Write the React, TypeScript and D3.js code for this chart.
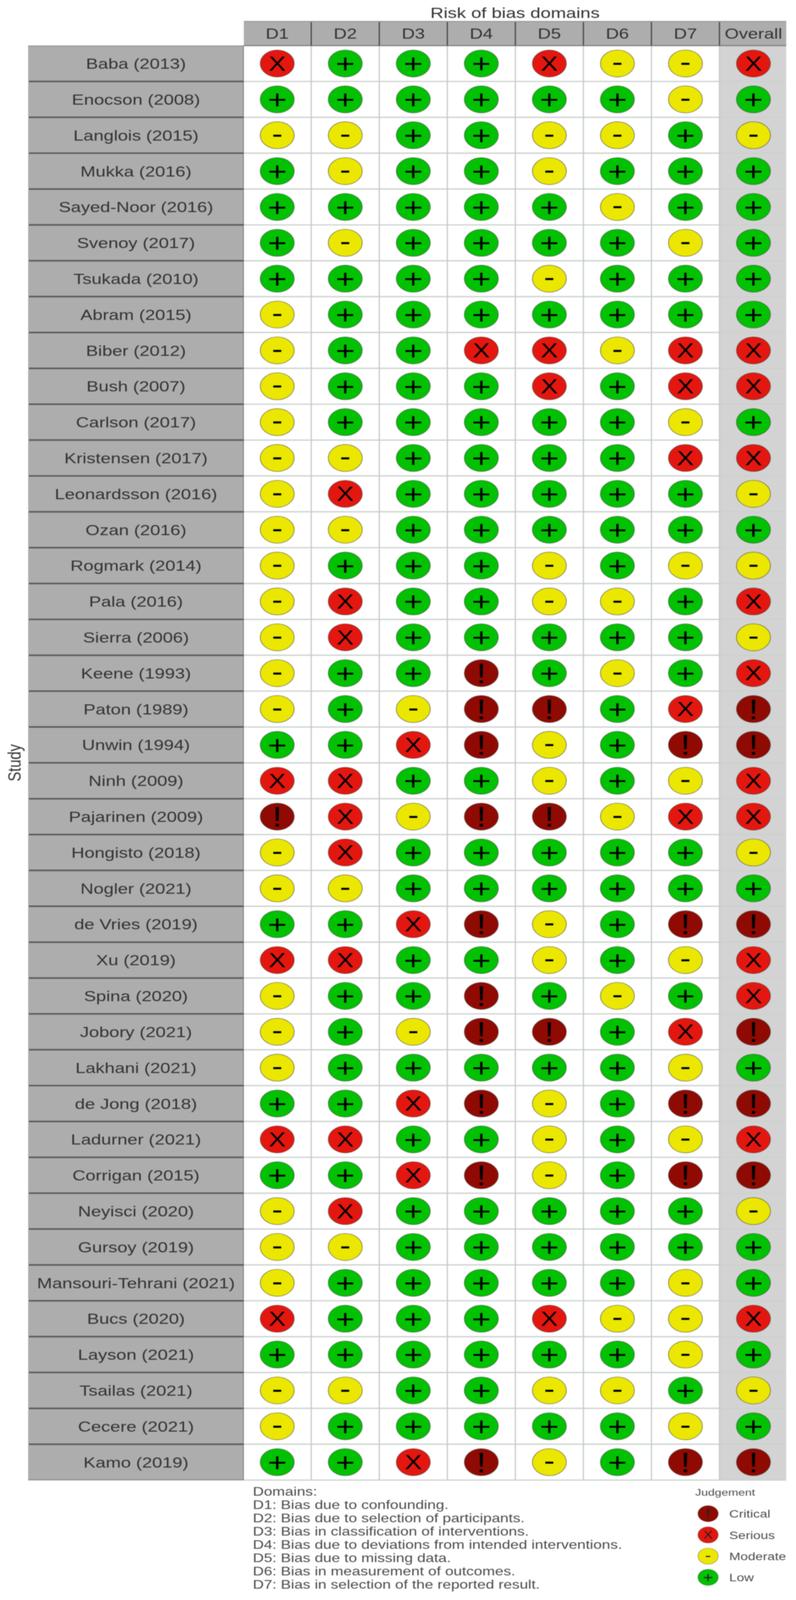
import React, { useEffect, useRef } from "react";
import * as d3 from "d3";

const studies = [
  "Baba (2013)", "Enocson (2008)", "Langlois (2015)", "Mukka (2016)", "Sayed-Noor (2016)",
  "Svenoy (2017)", "Tsukada (2010)", "Abram (2015)", "Biber (2012)", "Bush (2007)",
  "Carlson (2017)", "Kristensen (2017)", "Leonardsson (2016)", "Ozan (2016)", "Rogmark (2014)",
  "Pala (2016)", "Sierra (2006)", "Keene (1993)", "Paton (1989)", "Unwin (1994)",
  "Ninh (2009)", "Pajarinen (2009)", "Hongisto (2018)", "Nogler (2021)", "de Vries (2019)",
  "Xu (2019)", "Spina (2020)", "Jobory (2021)", "Lakhani (2021)", "de Jong (2018)",
  "Ladurner (2021)", "Corrigan (2015)", "Neyisci (2020)", "Gursoy (2019)", "Mansouri-Tehrani (2021)",
  "Bucs (2020)", "Layson (2021)", "Tsailas (2021)", "Cecere (2021)", "Kamo (2019)",
];

const domains = ["D1", "D2", "D3", "D4", "D5", "D6", "D7", "Overall"];

// one judgement per study, same order as studies
const d1 = ["X","+","-","+","+","+","+","-","-","-", "-","-","-","-","-","-","-","-","-","+", "X","!","-","-","+","X","-","-","-","+", "X","+","-","-","-","X","+","-","-","+"];
const d2 = ["+","+","-","-","+","-","+","+","+","+", "+","-","X","-","+","X","X","+","+","+", "X","X","X","-","+","X","+","+","+","+", "X","+","X","-","+","+","+","-","+","+"];
const d3v = ["+","+","+","+","+","+","+","+","+","+", "+","+","+","+","+","+","+","+","-","X", "+","-","+","+","X","+","+","-","+","X", "+","X","+","+","+","+","+","+","+","X"];
const d4 = ["+","+","+","+","+","+","+","+","X","+", "+","+","+","+","+","+","+","!","!","!", "+","!","+","+","!","+","!","!","+","!", "+","!","+","+","+","+","+","+","+","!"];
const d5 = ["X","+","-","-","+","+","-","+","X","X", "+","+","+","+","-","-","+","+","!","-", "-","!","+","+","-","-","+","!","+","-", "-","-","+","+","+","X","+","-","+","-"];
const d6 = ["-","+","-","+","-","+","+","+","-","+", "+","+","+","+","+","-","+","-","+","+", "+","-","+","+","+","+","-","+","+","+", "+","+","+","+","+","-","+","-","+","+"];
const d7 = ["-","-","+","+","+","-","+","+","X","X", "-","X","+","+","-","+","+","+","X","!", "-","X","+","+","!","-","+","X","-","!", "-","!","+","+","-","-","-","+","-","!"];
const overall = ["X","+","-","+","+","+","+","+","X","X", "+","X","-","+","-","X","-","X","!","!", "X","X","-","+","!","X","X","!","+","!", "X","!","-","+","+","X","+","-","+","!"];

const columns = [d1, d2, d3v, d4, d5, d6, d7, overall];

const domainNotes = [
  "Domains:",
  "D1: Bias due to confounding.",
  "D2: Bias due to selection of participants.",
  "D3: Bias in classification of interventions.",
  "D4: Bias due to deviations from intended interventions.",
  "D5: Bias due to missing data.",
  "D6: Bias in measurement of outcomes.",
  "D7: Bias in selection of the reported result.",
];

const legendLevels = ["!", "X", "-", "+"];
const legendNames = ["Critical", "Serious", "Moderate", "Low"];
const levelColors = ["#8f0a02", "#e3170f", "#ebe700", "#02c102"];

// font size and baseline shift (in em) that centre each symbol in its circle
const glyphSize: Record<string, number> = { "+": 84, "-": 84, X: 66, "!": 90 };
const glyphShift: Record<string, number> = { "+": 0.355, "-": 0.277, X: 0.344, "!": 0.356 };

const WIDTH = 2037;
const HEIGHT = 5153;
const FONT = "'Liberation Sans', Arial, sans-serif";

const App: React.FC = () => {
  const ref = useRef<SVGSVGElement | null>(null);

  useEffect(() => {
    document.body.style.margin = "0";
    const svg = d3.select(ref.current);
    svg.selectAll("*").remove();
    svg.attr("font-family", FONT);

    const panelLeft = 624;
    const panelRight = 2012;
    const stripLeft = 72;
    const headTop = 68;

    const x = d3.scaleBand<string>().domain(domains).range([622.4, 2015.2]);
    const y = d3.scaleBand<string>().domain(studies).range([146.8, 4766.8]);
    const color = d3.scaleOrdinal<string, string>().domain(legendLevels).range(levelColors);
    const panelTop = y.range()[0];
    const panelBottom = y.range()[1];

    // overall column background
    svg.append("rect")
      .attr("x", x("Overall")!)
      .attr("y", panelTop)
      .attr("width", panelRight - x("Overall")!)
      .attr("height", panelBottom - panelTop)
      .attr("fill", "#d3d3d3");

    // grid
    svg.append("g").selectAll("line")
      .data(studies.slice(1).concat("end"))
      .join("line")
      .attr("x1", panelLeft)
      .attr("x2", panelRight)
      .attr("y1", d => (d === "end" ? panelBottom : y(d)!))
      .attr("y2", d => (d === "end" ? panelBottom : y(d)!))
      .attr("stroke", "#cbd2ce")
      .attr("stroke-width", 4);
    svg.append("g").selectAll("line")
      .data(domains.slice(1))
      .join("line")
      .attr("x1", d => x(d)!)
      .attr("x2", d => x(d)!)
      .attr("y1", panelTop)
      .attr("y2", panelBottom)
      .attr("stroke", "#c3cbc7")
      .attr("stroke-width", 3);

    // header strip
    svg.append("rect")
      .attr("x", panelLeft)
      .attr("y", headTop)
      .attr("width", panelRight - panelLeft)
      .attr("height", panelTop - headTop)
      .attr("fill", "#adadad");
    svg.append("line")
      .attr("x1", panelLeft).attr("x2", panelRight)
      .attr("y1", headTop + 1).attr("y2", headTop + 1)
      .attr("stroke", "#929292").attr("stroke-width", 3);
    svg.append("line")
      .attr("x1", panelLeft).attr("x2", panelRight)
      .attr("y1", panelTop).attr("y2", panelTop)
      .attr("stroke", "#858585").attr("stroke-width", 4);
    svg.append("g").selectAll("line")
      .data(domains.slice(1))
      .join("line")
      .attr("x1", d => x(d)!)
      .attr("x2", d => x(d)!)
      .attr("y1", headTop + 3)
      .attr("y2", panelTop)
      .attr("stroke", "#454545")
      .attr("stroke-width", 3);
    svg.append("g").selectAll("text")
      .data(domains)
      .join("text")
      .attr("x", d => x(d)! + x.bandwidth() / 2)
      .attr("y", 125)
      .attr("text-anchor", "middle")
      .attr("font-size", 46.5)
      .attr("fill", "#333")
      .text(d => d);

    // study strip
    svg.append("rect")
      .attr("x", stripLeft)
      .attr("y", panelTop)
      .attr("width", panelLeft - stripLeft)
      .attr("height", panelBottom - panelTop)
      .attr("fill", "#adadad");
    svg.append("rect")
      .attr("x", stripLeft)
      .attr("y", panelTop)
      .attr("width", panelLeft - stripLeft)
      .attr("height", 3)
      .attr("fill", "#929292");
    svg.append("rect")
      .attr("x", stripLeft)
      .attr("y", panelBottom - 3)
      .attr("width", panelLeft - stripLeft)
      .attr("height", 4)
      .attr("fill", "#929292");
    svg.append("line")
      .attr("x1", panelLeft - 1).attr("x2", panelLeft - 1)
      .attr("y1", panelTop).attr("y2", panelBottom)
      .attr("stroke", "#777").attr("stroke-width", 2);
    svg.append("g").selectAll("line")
      .data(studies.slice(1))
      .join("line")
      .attr("x1", stripLeft + 2)
      .attr("x2", panelLeft)
      .attr("y1", d => y(d)!)
      .attr("y2", d => y(d)!)
      .attr("stroke", "#5a5a5a")
      .attr("stroke-width", 5);
    svg.append("g").selectAll("text")
      .data(studies)
      .join("text")
      .attr("x", (stripLeft + panelLeft) / 2)
      .attr("y", d => y(d)! + y.bandwidth() / 2 + 17)
      .attr("text-anchor", "middle")
      .attr("font-size", 46.5)
      .attr("fill", "#333")
      .text(d => d);

    // judgement circles
    const cells = columns.flatMap((col, c) =>
      col.map((j, r) => ({ domain: domains[c], study: studies[r], j }))
    );
    const cell = svg.append("g").selectAll("g")
      .data(cells)
      .join("g")
      .attr("transform", d =>
        `translate(${x(d.domain)! + x.bandwidth() / 2},${y(d.study)! + y.bandwidth() / 2})`
      );
    cell.append("circle")
      .attr("r", 43.5)
      .attr("fill", d => color(d.j))
      .attr("stroke", "#3c3c3c")
      .attr("stroke-opacity", 0.6)
      .attr("stroke-width", 2);
    cell.append("text")
      .attr("y", d => glyphSize[d.j] * glyphShift[d.j])
      .attr("text-anchor", "middle")
      .attr("font-size", d => glyphSize[d.j])
      .attr("fill", "#000")
      .text(d => d.j);

    // axis titles
    svg.append("text")
      .attr("x", (panelLeft + panelRight) / 2)
      .attr("y", 58)
      .attr("text-anchor", "middle")
      .attr("font-size", 47)
      .attr("fill", "#333")
      .text("Risk of bias domains");
    svg.append("text")
      .attr("transform", `translate(53,${(panelTop + panelBottom) / 2}) rotate(-90)`)
      .attr("text-anchor", "middle")
      .attr("font-size", 47)
      .attr("fill", "#333")
      .text("Study");

    // domain caption
    const noteY = d3.scalePoint<string>().domain(domainNotes).range([4817, 5117]);
    svg.append("g").selectAll("text")
      .data(domainNotes)
      .join("text")
      .attr("x", 647)
      .attr("y", d => noteY(d)!)
      .attr("font-size", 39)
      .attr("fill", "#4a4a4a")
      .text(d => d);

    // legend
    svg.append("text")
      .attr("x", 1779)
      .attr("y", 4817)
      .attr("font-size", 31)
      .attr("fill", "#4a4a4a")
      .text("Judgement");
    const keyY = d3.scalePoint<string>().domain(legendLevels).range([4875, 5080]);
    const key = svg.append("g").selectAll("g")
      .data(legendLevels)
      .join("g")
      .attr("transform", d => `translate(1812,${keyY(d)})`);
    key.append("circle")
      .attr("r", 26)
      .attr("fill", d => color(d))
      .attr("stroke", "#3c3c3c")
      .attr("stroke-opacity", 0.5)
      .attr("stroke-width", 1.5);
    key.append("text")
      .attr("y", d => glyphSize[d] * 0.55 * glyphShift[d])
      .attr("text-anchor", "middle")
      .attr("font-size", d => glyphSize[d] * 0.55)
      .attr("fill", "#222")
      .text(d => d);
    key.append("text")
      .attr("x", 54)
      .attr("y", 13)
      .attr("font-size", 34.5)
      .attr("fill", "#4a4a4a")
      .text((d, i) => legendNames[i]);
  }, []);

  // the browser window reports 4096px high rather than 5153, and only the window is
  // captured, so the 5153-high layout is fitted to the real height (squashes y when shorter)
  const shownHeight = Math.min(window.innerHeight || HEIGHT, HEIGHT);

  return (
    <svg
      ref={ref}
      width={WIDTH}
      height={shownHeight}
      viewBox={`0 0 ${WIDTH} ${HEIGHT}`}
      preserveAspectRatio="none"
      style={{ display: "block", background: "#fff", filter: "blur(0.8px)" }}
    ></svg>
  );
};

export default App;
